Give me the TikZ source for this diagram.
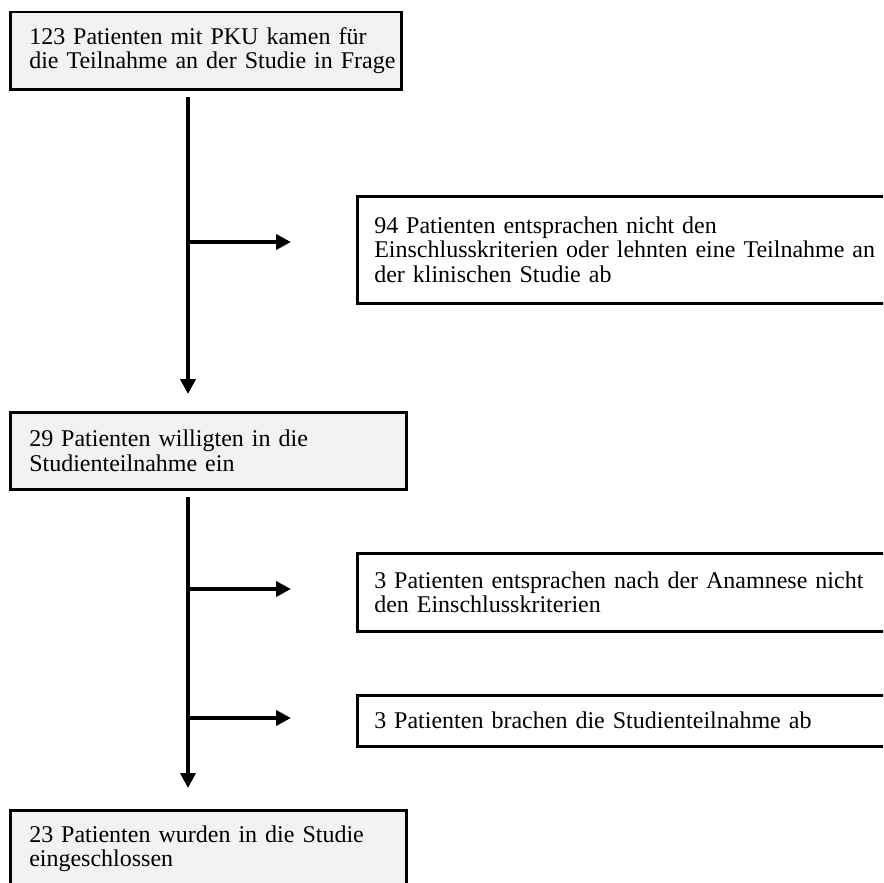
\documentclass[tikz,border=0pt]{standalone}
\usepackage{fontspec}
\setmainfont{Liberation Serif}
\usetikzlibrary{arrows.meta}
\definecolor{boxgray}{HTML}{F2F2F2}
\newcommand{\boxfont}{\fontsize{24}{24.5}\selectfont\spaceskip=0.17em plus 0.05em minus 0.03em\relax}
\begin{document}
\begin{tikzpicture}[x=1pt,y=-1pt,
  leftbox/.style={draw=black, line width=2.5pt, fill=boxgray, rectangle, anchor=north west,
    inner xsep=19pt, inner ysep=0pt, align=left, text width=#1,
    font=\boxfont, minimum height=77pt},
  rightbox/.style={draw=black, line width=2.5pt, fill=white, rectangle, anchor=north west,
    inner xsep=17pt, inner ysep=0pt, align=left, text width=560pt,
    font=\boxfont, minimum height=#1},
  flowarrow/.style={line width=4.5pt, -{Triangle[length=15pt,width=15pt]}}]
\useasboundingbox (0,0) rectangle (883,883);
\clip (0,0) rectangle (883,883);

\node[leftbox=353pt] (n1) at (9,11) {\mbox{123 Patienten mit PKU kamen für}\\\mbox{die Teilnahme an der Studie in Frage}};
\node[rightbox=107pt] (r1) at (356,195) {94 Patienten entsprachen nicht den\\Einschlusskriterien oder lehnten eine Teilnahme an\\der klinischen Studie ab};
\node[leftbox=358pt] (n2) at (9,411) {\mbox{29 Patienten willigten in die}\\\mbox{Studienteilnahme ein}};
\node[rightbox=78pt] (r2) at (356,552) {3 Patienten entsprachen nach der Anamnese nicht\\den Einschlusskriterien};
\node[rightbox=51pt] (r3) at (356,694) {3 Patienten brachen die Studienteilnahme ab};
\node[leftbox=358pt] (n3) at (9,809) {\mbox{23 Patienten wurden in die Studie}\\\mbox{eingeschlossen}};

\coordinate (t1) at (188,97);
\coordinate (b1) at (188,242);
\coordinate (t2) at (188,497);
\coordinate (b2) at (188,589);
\coordinate (b3) at (188,718);

\draw[flowarrow, shorten >=17pt] (t1) -- (t1 |- n2.north);
\draw[flowarrow, shorten >=65pt] (b1) -- (b1 -| r1.west);
\draw[flowarrow, shorten >=21pt] (t2) -- (t2 |- n3.north);
\draw[flowarrow, shorten >=65pt] (b2) -- (b2 -| r2.west);
\draw[flowarrow, shorten >=65pt] (b3) -- (b3 -| r3.west);
\end{tikzpicture}
\end{document}
